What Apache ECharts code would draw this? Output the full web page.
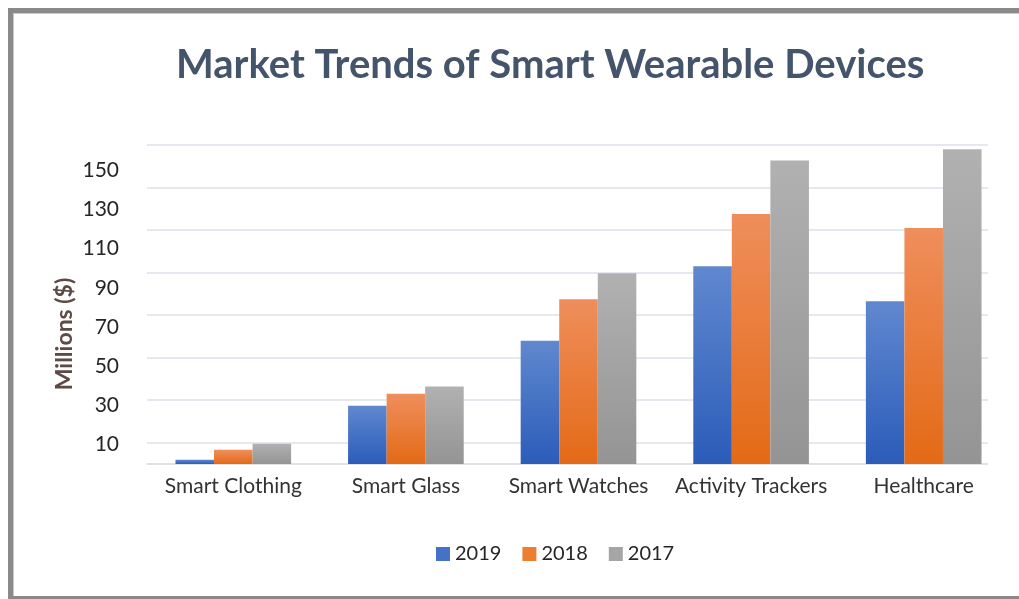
<!DOCTYPE html>
<html>
<head>
<meta charset="utf-8">
<script src="https://cdn.jsdelivr.net/npm/echarts@6/dist/echarts.min.js"></script>
<style>
html,body{margin:0;padding:0;background:#fff;overflow:hidden;}
#chart{position:absolute;left:0;top:0;width:1019px;height:599px;}
#frame{position:absolute;left:8px;top:8px;width:1100px;height:583px;border-left:5px solid #8a8a8a;border-top:5px solid #8a8a8a;border-bottom:5px solid #8a8a8a;pointer-events:none;box-shadow:inset 1px 1px 0 #c8c8c8;}
</style>
</head>
<body>
<div id="chart"></div>
<div id="frame"></div>
<script>
const categories = ['Smart Clothing', 'Smart Glass', 'Smart Watches', 'Activity Trackers', 'Healthcare'];
const seriesNames = ['2019', '2018', '2017'];
const values2019 = [2, 27.4, 58, 93, 76.5];
const values2018 = [6.7, 33, 77.5, 117.5, 111];
const values2017 = [9.5, 36.4, 89.7, 142.7, 148];
const gridValues = [10, 30, 50, 70, 90, 110, 130, 150];
const tickLabels = [10, 30, 50, 70, 90, 110, 130, 150];

function grad(top, bottom) {
  return new echarts.graphic.LinearGradient(0, 0, 0, 1, [
    {offset: 0, color: top}, {offset: 1, color: bottom}
  ]);
}
const colors = [
  grad('#6088cf', '#2b5cb9'),
  grad('#ef8e5c', '#e36a16'),
  grad('#b1b1b1', '#949494')
];
const legendColors = ['#4472c4', '#ed7d31', '#a5a5a5'];
const seriesValues = [values2019, values2018, values2017];

const chart = echarts.init(document.getElementById('chart'), null, {renderer: 'canvas'});
const font = 'Lato';
chart.setOption({
  animation: false,
  backgroundColor: '#ffffff',
  title: {
    text: 'Market Trends of Smart Wearable Devices',
    left: 171, top: 40,
    textStyle: {fontFamily: font, fontWeight: 'bold', fontSize: 40, color: '#44546a'}
  },
  legend: {
    left: 431, top: 539,
    itemWidth: 14, itemHeight: 14, itemGap: 21,
    icon: 'rect',
    textStyle: {fontFamily: font, fontSize: 20, color: '#262626'},
    data: seriesNames.map((n, i) => ({name: n, itemStyle: {color: legendColors[i]}}))
  },
  graphic: [{
    type: 'text', x: 65, y: 334, rotation: Math.PI / 2,
    style: {text: 'Millions ($)', fontFamily: font, fontWeight: 'bold', fontSize: 23,
      fill: '#5e4a44', align: 'center', verticalAlign: 'middle'}
  }, {
    type: 'rect', shape: {x: 988, y: 138, width: 40, height: 332}, z: 100,
    style: {fill: '#ffffff'}, silent: true
  }],
  grid: {left: 147, right: 9, top: 145, bottom: 135, containLabel: false},
  xAxis: {
    type: 'category', data: categories,
    axisLine: {show: true, lineStyle: {color: '#d9d9d9', width: 1.5}},
    axisTick: {show: false},
    axisLabel: {fontFamily: font, fontSize: 21, color: '#333', margin: 12, interval: 0}
  },
  yAxis: [{
    type: 'value', min: 0, max: 150,
    axisLine: {show: false},
    axisTick: {show: false, customValues: gridValues},
    axisLabel: {show: false},
    splitLine: {show: true, lineStyle: {color: '#dde2ea', width: 1.5}}
  }, {
    type: 'value', min: 0, max: 163, position: 'left',
    axisLine: {show: false},
    axisTick: {show: false},
    splitLine: {show: false},
    axisLabel: {customValues: tickLabels, fontFamily: font, fontSize: 21, color: '#262626', margin: 28}
  }],
  series: seriesNames.map((n, i) => ({
    name: n, type: 'bar', yAxisIndex: 0,
    data: seriesValues[i],
    barGap: '0%', barCategoryGap: '33%',
    itemStyle: {color: colors[i]}
  }))
});
</script>
</body>
</html>
